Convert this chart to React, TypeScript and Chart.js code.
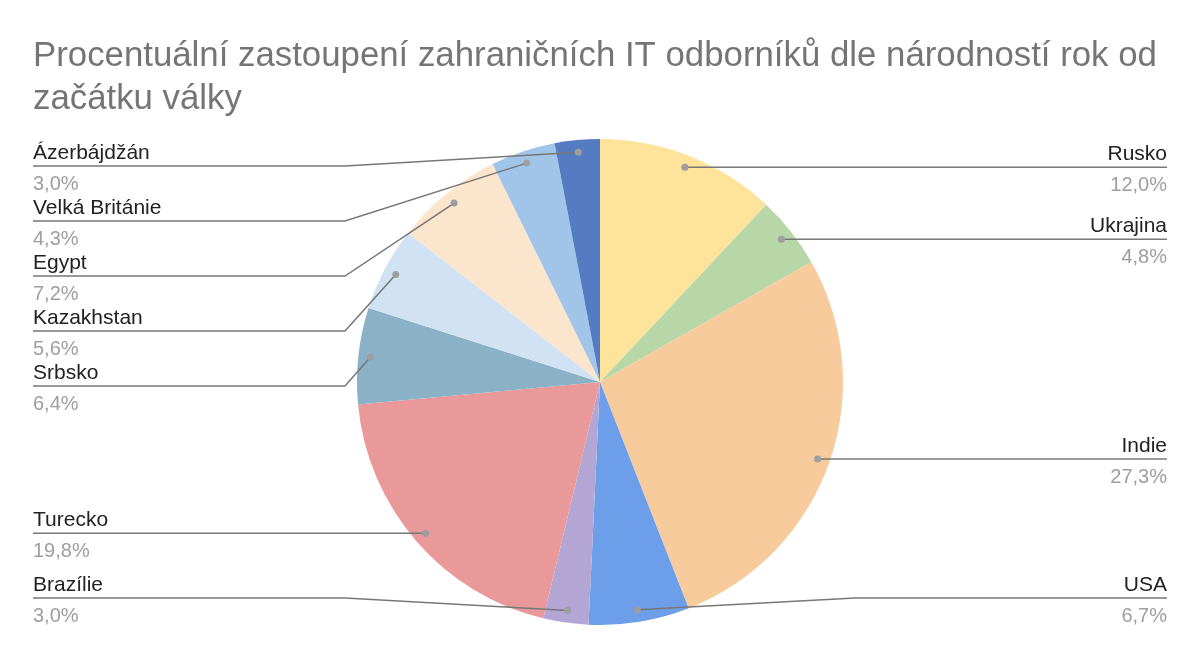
import React, { useEffect, useRef } from "react";
import { Chart, registerables } from "chart.js";

Chart.register(...registerables);

const TITLE_LINES = [
  "Procentuální zastoupení zahraničních IT odborníků dle národností rok od",
  "začátku války",
];
const CATEGORIES = [
  "Rusko",
  "Ukrajina",
  "Indie",
  "USA",
  "Brazílie",
  "Turecko",
  "Srbsko",
  "Kazakhstan",
  "Egypt",
  "Velká Británie",
  "Ázerbájdžán",
];
const VALUES = [12.0, 4.8, 27.3, 6.7, 3.0, 19.8, 6.4, 5.6, 7.2, 4.3, 3.0];
const COLORS = [
  "#FEE39A",
  "#B7D7A8",
  "#F8CB9D",
  "#6C9EEA",
  "#B3A6D5",
  "#E99999",
  "#8AB1C6",
  "#D0E2F3",
  "#FCE5CD",
  "#A0C5E8",
  "#557CC3",
];

const FONT = "'Liberation Sans', Arial, sans-serif";

const labelPlugin = {
  id: "sideLabels",
  afterDraw(chart: any) {
    const ctx = chart.ctx as CanvasRenderingContext2D;
    const meta = chart.getDatasetMeta(0);
    const arcs = meta.data;
    if (!arcs.length) return;
    const cx = arcs[0].x;
    const cy = arcs[0].y;
    const R = arcs[0].outerRadius;
    const total = VALUES.reduce((a, b) => a + b, 0);

    ctx.save();
    // title
    ctx.fillStyle = "#757575";
    ctx.font = `34.8px ${FONT}`;
    ctx.textAlign = "left";
    ctx.textBaseline = "alphabetic";
    TITLE_LINES.forEach((t, i) => ctx.fillText(t, 33, 66 + i * 43));

    const items = arcs.map((a: any, i: number) => {
      const mid = (a.startAngle + a.endAngle) / 2;
      const r = R * 0.95;
      const px = cx + Math.cos(mid) * r;
      const py = cy + Math.sin(mid) * r;
      return {
        i,
        px,
        py,
        right: Math.cos(mid) >= 0,
        ly: py,
      };
    });

    const minY = 166;
    const maxY = 598;
    const gap = 55;
    [true, false].forEach((side) => {
      const group = items
        .filter((it: any) => it.right === side)
        .sort((a: any, b: any) => a.py - b.py);
      let prev = -Infinity;
      group.forEach((it: any) => {
        let y = Math.max(it.py, minY, prev + gap);
        it.ly = y;
        prev = y;
      });
      for (let k = group.length - 1; k >= 0; k--) {
        const lim = k === group.length - 1 ? maxY : group[k + 1].ly - gap;
        if (group[k].ly > lim) group[k].ly = lim;
      }
    });

    const leftX = 33;
    const rightX = 1167;
    items.forEach((it: any) => {
      const elbowX = it.right ? cx + R + 12 : cx - R - 12;
      const endX = it.right ? rightX : leftX;
      ctx.strokeStyle = "#777777";
      ctx.lineWidth = 1.5;
      ctx.beginPath();
      ctx.moveTo(it.px, it.py);
      if (Math.abs(it.ly - it.py) > 1) {
        ctx.lineTo(elbowX, it.ly);
      } else {
        it.ly = it.py;
      }
      ctx.lineTo(endX, it.ly);
      ctx.stroke();

      ctx.fillStyle = "#9e9e9e";
      ctx.beginPath();
      ctx.arc(it.px, it.py, 3.5, 0, Math.PI * 2);
      ctx.fill();

      ctx.textAlign = it.right ? "right" : "left";
      ctx.font = `21px ${FONT}`;
      ctx.fillStyle = "#222222";
      ctx.fillText(CATEGORIES[it.i], endX, it.ly - 7);
      ctx.font = `20px ${FONT}`;
      ctx.fillStyle = "#9e9e9e";
      const pct = ((VALUES[it.i] / total) * 100).toFixed(1).replace(".", ",") + "%";
      ctx.fillText(pct, endX, it.ly + 24);
    });
    ctx.restore();
  },
};

export default function App() {
  const ref = useRef<HTMLCanvasElement>(null);
  useEffect(() => {
    document.body.style.margin = "0";
    const chart = new Chart(ref.current!, {
      type: "pie",
      data: {
        labels: CATEGORIES,
        datasets: [
          {
            data: VALUES,
            backgroundColor: COLORS,
            borderWidth: 0,
          },
        ],
      },
      options: {
        animation: false,
        responsive: false,
        layout: { padding: { top: 139, bottom: 34, left: 0, right: 0 } },
        plugins: {
          legend: { display: false },
          tooltip: { enabled: false },
          title: { display: false },
        },
      },
      plugins: [labelPlugin],
    });
    return () => chart.destroy();
  }, []);
  return (
    <div style={{ width: 1200, height: 659, background: "#fff" }}>
      <canvas ref={ref} width={1200} height={659} />
    </div>
  );
}
